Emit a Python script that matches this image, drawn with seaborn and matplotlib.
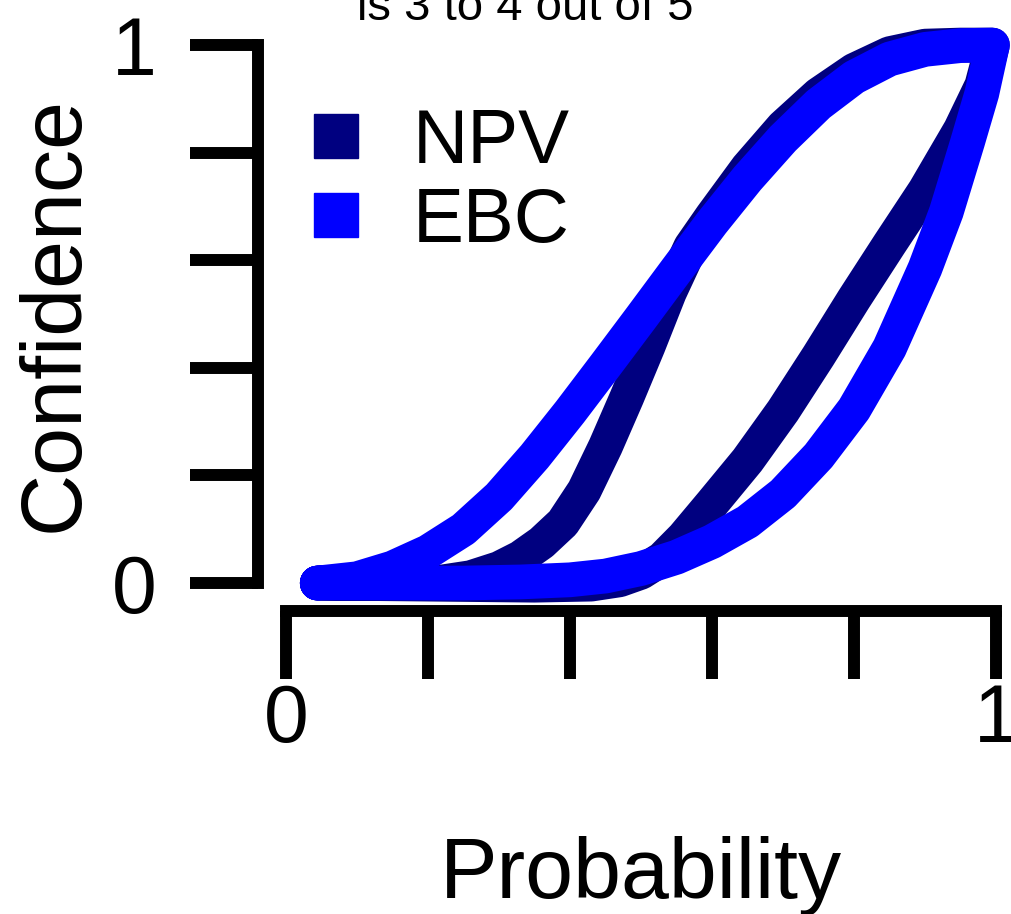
import numpy as np
import pandas as pd
import matplotlib
matplotlib.use("Agg")
import matplotlib.pyplot as plt
from matplotlib.lines import Line2D
import seaborn as sns

# ---------------- data ----------------
series_names = ["NPV", "EBC"]
series_colors = ["#000080", "#0000FF"]

npv_upper_x = [0.044, 0.15, 0.22, 0.26, 0.30, 0.33, 0.36, 0.39, 0.42, 0.45, 0.48, 0.51,
               0.54, 0.57, 0.60, 0.65, 0.70, 0.75, 0.80, 0.85, 0.90, 0.95, 0.995]
npv_upper_y = [0.000, 0.000, 0.002, 0.010, 0.027, 0.047, 0.075, 0.112, 0.172, 0.254, 0.345,
               0.440, 0.540, 0.625, 0.682, 0.772, 0.848, 0.908, 0.953, 0.984, 0.998, 1.000,
               1.000]
npv_lower_x = [0.044, 0.20, 0.35, 0.43, 0.47, 0.50, 0.53, 0.56, 0.60, 0.65, 0.70, 0.75,
               0.80, 0.85, 0.90, 0.95, 0.98, 0.995]
npv_lower_y = [0.000, -0.002, -0.004, -0.002, 0.006, 0.020, 0.045, 0.085, 0.148, 0.228,
               0.320, 0.422, 0.528, 0.630, 0.730, 0.843, 0.925, 1.000]

ebc_upper_x = [0.044, 0.10, 0.15, 0.20, 0.25, 0.30, 0.35, 0.40, 0.45, 0.50, 0.55, 0.60,
               0.65, 0.70, 0.75, 0.80, 0.85, 0.90, 0.95, 0.995]
ebc_upper_y = [0.000, 0.008, 0.028, 0.058, 0.100, 0.160, 0.235, 0.318, 0.405, 0.493, 0.582,
               0.670, 0.752, 0.826, 0.890, 0.940, 0.974, 0.992, 0.999, 1.000]
ebc_lower_x = [0.044, 0.15, 0.25, 0.33, 0.40, 0.45, 0.50, 0.55, 0.60, 0.65, 0.70, 0.75,
               0.80, 0.85, 0.90, 0.93, 0.96, 0.98, 0.995]
ebc_lower_y = [0.000, 0.000, 0.000, 0.002, 0.006, 0.013, 0.027, 0.048, 0.077, 0.114, 0.166,
               0.236, 0.323, 0.437, 0.585, 0.690, 0.820, 0.910, 1.000]

x_ticks = [0.0, 0.2, 0.4, 0.6, 0.8, 1.0]
x_tick_labels = ["0", "", "", "", "", "1"]
y_ticks = [0.0, 0.2, 0.4, 0.6, 0.8, 1.0]
y_tick_labels = ["0", "", "", "", "", "1"]
title_text = "is 3 to 4 out of 5"
x_label = "Probability"
y_label = "Confidence"

# ---------------- build closed loops ----------------
def loop(ux, uy, lx, ly):
    xs = list(ux) + list(lx[::-1])
    ys = list(uy) + list(ly[::-1])
    return xs, ys

rows = []
for name, (ux, uy, lx, ly) in zip(series_names,
                                  [(npv_upper_x, npv_upper_y, npv_lower_x, npv_lower_y),
                                   (ebc_upper_x, ebc_upper_y, ebc_lower_x, ebc_lower_y)]):
    xs, ys = loop(ux, uy, lx, ly)
    for i, (a, b) in enumerate(zip(xs, ys)):
        rows.append({"series": name, "order": i, "Probability": a, "Confidence": b})
df = pd.DataFrame(rows)

# ---------------- styling ----------------
sns.set_style("ticks")
plt.rcParams["font.family"] = ["Liberation Sans", "DejaVu Sans"]
for key in ["text.color", "axes.labelcolor", "xtick.color", "ytick.color"]:
    plt.rcParams[key] = "black"

fig = plt.figure(figsize=(10.12, 9.14), dpi=100)
ax = fig.add_axes([0.2826, 0.3621, 0.7016, 0.5886])

sns.lineplot(data=df, x="Probability", y="Confidence", hue="series",
             hue_order=series_names, palette=series_colors, sort=False,
             estimator=None, units="series", legend=False, ax=ax,
             linewidth=25, solid_capstyle="round", solid_joinstyle="round",
             clip_on=False)

ax.set_xlim(0, 1)
ax.set_ylim(0, 1)
ax.set_xticks(x_ticks)
ax.set_xticklabels(x_tick_labels)
ax.set_yticks(y_ticks)
ax.set_yticklabels(y_tick_labels)

sns.despine(ax=ax, offset=20)
ax.spines["left"].set_bounds(0, 1)
ax.spines["bottom"].set_bounds(0, 1)
for s in ["left", "bottom"]:
    ax.spines[s].set_linewidth(8.6)
    ax.spines[s].set_color("black")

ax.tick_params(axis="both", direction="out", length=49, width=8.6, color="black",
               labelsize=58, labelcolor="black")
ax.tick_params(axis="x", pad=3)
ax.tick_params(axis="y", pad=24)

ax.set_xlabel(x_label, fontsize=62, color="black")
ax.set_ylabel(y_label, fontsize=62, color="black")
ax.xaxis.set_label_coords(0.5, -0.47)
ax.yaxis.set_label_coords(-0.268, 0.5)

handles = [Line2D([], [], marker="s", linestyle="", markersize=31,
                  markerfacecolor=c, markeredgecolor=c) for c in series_colors]
leg = ax.legend(handles, series_names, loc="upper left", frameon=False, fontsize=55,
                handlelength=1.0, handletextpad=0.5, labelspacing=0.1, borderpad=0,
                borderaxespad=0, bbox_to_anchor=(298 / 1012, 1 - 108 / 914),
                bbox_transform=fig.transFigure)
for t in leg.get_texts():
    t.set_color("black")

fig.text(525 / 1012, 1 - 20 / 914, title_text, ha="center", va="baseline",
         fontsize=34, color="black")

fig.savefig("out.png", dpi=100)
